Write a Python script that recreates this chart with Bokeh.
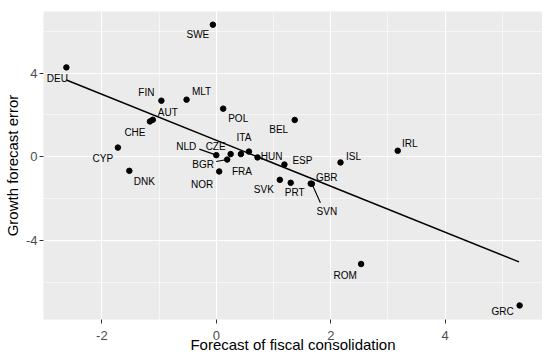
from bokeh.plotting import figure
from bokeh.models import ColumnDataSource, FixedTicker, Range1d
from bokeh.core.properties import value
from bokeh.embed import file_html
from bokeh.resources import INLINE

# ---- data ----
countries = ["DEU", "SWE", "FIN", "MLT", "AUT", "CHE", "CYP", "DNK", "POL", "BEL",
             "NLD", "CZE", "BGR", "NOR", "FRA", "ITA", "HUN", "ESP", "SVK", "PRT",
             "GBR", "SVN", "ISL", "IRL", "ROM", "GRC"]
consolidation = [-2.62, -0.06, -0.96, -0.52, -1.11, -1.16, -1.72, -1.52, 0.12, 1.37,
                 0.00, 0.25, 0.19, 0.05, 0.43, 0.57, 0.72, 1.19, 1.11, 1.30,
                 1.65, 1.67, 2.17, 3.17, 2.53, 5.30]
growth_error = [4.27, 6.31, 2.68, 2.73, 1.77, 1.69, 0.44, -0.67, 2.30, 1.76,
                0.08, 0.13, -0.13, -0.70, 0.13, 0.25, -0.03, -0.37, -1.10, -1.24,
                -1.28, -1.29, -0.27, 0.29, -5.12, -7.10]
fit_x = [-2.62, 5.29]
fit_y = [3.67, -5.02]

x_ticks = [-2, 0, 2, 4]
x_minor = [-1, 1, 3, 5]
y_ticks = [-4, 0, 4]
y_minor = [-6, -2, 2, 6]

# ---- layout of the repelled labels (screen pixel offsets, +y is down) ----
label_offsets = {
    "DEU": (-9, 11), "SWE": (-15, 10), "FIN": (-15, -8), "MLT": (15, -8),
    "AUT": (15, -7), "CHE": (-15, 11), "CYP": (-15, 11), "DNK": (15, 11),
    "POL": (15, 10), "BEL": (-16, 10), "NLD": (-30, -9), "CZE": (-15, -8),
    "BGR": (-24, 5), "NOR": (-17, 13), "FRA": (1, 17), "ITA": (-5, -14),
    "HUN": (14, -1), "ESP": (18, -4), "SVK": (-16, 10), "PRT": (4, 10),
    "GBR": (16, -6), "SVN": (15, 28), "ISL": (13, -6), "IRL": (12, -7),
    "ROM": (-16, 11), "GRC": (-17, 6),
}
# leader segments: end of segment relative to point, in pixels
segment_ends = {"NLD": (-17, -6), "BGR": (-11, 2), "SVN": (8.5, 19)}

X0, X1 = -3.02, 5.70
Y0, Y1 = -7.77, 6.94
FW, FH = 499, 308

FONT = "Liberation Sans"

p = figure(frame_width=FW, frame_height=FH,
           x_range=Range1d(X0, X1), y_range=Range1d(Y0, Y1),
           output_backend="svg", toolbar_location=None,
           min_border_left=0, min_border_right=0, min_border_top=11, min_border_bottom=0,
           background_fill_color="#EBEBEB", border_fill_color="white",
           outline_line_color=None)

p.xaxis.ticker = FixedTicker(ticks=x_ticks, minor_ticks=x_minor)
p.yaxis.ticker = FixedTicker(ticks=y_ticks, minor_ticks=y_minor)
p.xaxis.major_label_overrides = {t: str(t) for t in x_ticks}
p.yaxis.major_label_overrides = {t: str(t) for t in y_ticks}

for g in (p.xgrid, p.ygrid):
    g.grid_line_color = "white"
    g.grid_line_width = 1.1
    g.minor_grid_line_color = "white"
    g.minor_grid_line_width = 0.55

for ax in (p.xaxis, p.yaxis):
    ax.axis_line_color = None
    ax.minor_tick_line_color = None
    ax.major_tick_in = 0
    ax.major_tick_out = 4
    ax.major_tick_line_color = "#333333"
    ax.major_label_text_color = "#4D4D4D"
    ax.major_label_text_font = FONT
    ax.major_label_text_font_size = "13px"
    ax.axis_label_text_font = FONT
    ax.axis_label_text_font_size = "15px"
    ax.axis_label_text_font_style = "normal"
    ax.axis_label_text_color = "black"

p.xaxis.major_label_standoff = 7
p.xaxis.axis_label_standoff = -7
p.yaxis.major_label_standoff = 2
p.yaxis.axis_label_standoff = 2

p.xaxis.axis_label = "Forecast of fiscal consolidation"
p.yaxis.axis_label = "Growth forecast error"

# regression line
p.line(fit_x, fit_y, line_color="black", line_width=1.5)

# leader segments
px_x = FW / (X1 - X0)
px_y = FH / (Y1 - Y0)
sx0, sy0, sx1, sy1 = [], [], [], []
for c, (ex, ey) in segment_ends.items():
    i = countries.index(c)
    sx0.append(consolidation[i]); sy0.append(growth_error[i])
    sx1.append(consolidation[i] + ex / px_x); sy1.append(growth_error[i] - ey / px_y)
p.segment(sx0, sy0, sx1, sy1, line_color="black", line_width=1.1)

src = ColumnDataSource(dict(
    x=consolidation, y=growth_error, name=countries,
    dx=[label_offsets[c][0] for c in countries],
    dy=[label_offsets[c][1] for c in countries],
))
p.scatter("x", "y", source=src, size=5.5, color="black")
p.text("x", "y", text="name", source=src, x_offset="dx", y_offset="dy",
       text_align="center", text_baseline="middle",
       text_font=value(FONT), text_font_size="10px", text_color="black")

open("out.html", "w").write(file_html(p, INLINE))
